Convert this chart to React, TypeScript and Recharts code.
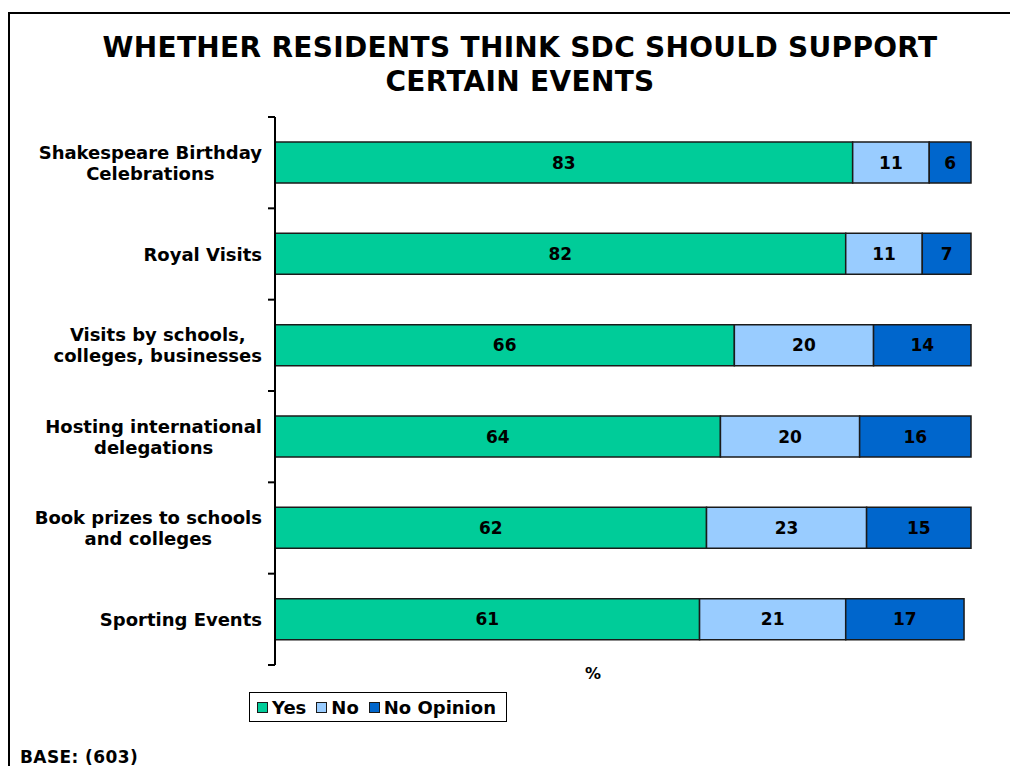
import React from "react";
import { BarChart, Bar, XAxis, YAxis, LabelList, Label } from "recharts";

// category labels, already split into the lines shown on the axis
const CATEGORY_LINES = [
  ["Shakespeare Birthday", "Celebrations"],
  ["Royal Visits"],
  ["Visits by schools,", "colleges, businesses"],
  ["Hosting international", "delegations"],
  ["Book prizes to schools", "and colleges"],
  ["Sporting Events"],
];
const CATEGORIES = CATEGORY_LINES.map((l) => l.join(" "));

const YES = [83, 82, 66, 64, 62, 61];
const NO = [11, 11, 20, 20, 23, 21];
const NO_OPINION = [6, 7, 14, 16, 15, 17];

const SERIES = [
  { key: "yes", name: "Yes", color: "#00CC99" },
  { key: "no", name: "No", color: "#99CCFF" },
  { key: "noOpinion", name: "No Opinion", color: "#0066CC" },
];

const data = CATEGORIES.map((c, i) => ({
  name: c,
  yes: YES[i],
  no: NO[i],
  noOpinion: NO_OPINION[i],
}));

const FONT = 'Verdana, "DejaVu Sans", sans-serif';
const W = 1010;
const H = 766;
const MARGIN = { top: 117, right: 39, bottom: 71, left: 15 };
const Y_AXIS_W = 260;
const X_AXIS_H = 30;
const PLOT_LEFT = MARGIN.left + Y_AXIS_W;
const PLOT_H = H - MARGIN.top - MARGIN.bottom - X_AXIS_H;
const BAND = PLOT_H / CATEGORIES.length;
const LABEL_SIZE = 18;

let ctx: CanvasRenderingContext2D | null = null;
function textWidth(s: string) {
  if (!ctx) ctx = document.createElement("canvas").getContext("2d");
  if (!ctx) return s.length * LABEL_SIZE * 0.6;
  ctx.font = `bold ${LABEL_SIZE}px ${FONT}`;
  return ctx.measureText(s).width;
}

function CategoryTick(props: any) {
  const { y, payload, index } = props;
  const lines: string[] = CATEGORY_LINES[index] || [payload.value];
  const right = PLOT_LEFT - 13;
  const blockW = Math.max(...lines.map(textWidth));
  const cx = right - blockW / 2;
  const lh = 21;
  const y0 = y - ((lines.length - 1) * lh) / 2;
  const isLast = index === CATEGORIES.length - 1;
  return (
    <g>
      <line x1={PLOT_LEFT - 7} x2={PLOT_LEFT} y1={y - BAND / 2} y2={y - BAND / 2} stroke="#000" strokeWidth={2} />
      {isLast && (
        <line x1={PLOT_LEFT - 7} x2={PLOT_LEFT} y1={y + BAND / 2} y2={y + BAND / 2} stroke="#000" strokeWidth={2} />
      )}
      {lines.map((l, i) => (
        <text
          key={i}
          x={cx}
          y={y0 + i * lh}
          textAnchor="middle"
          dominantBaseline="central"
          fontFamily={FONT}
          fontWeight="bold"
          fontSize={LABEL_SIZE}
          fill="#000"
        >
          {l}
        </text>
      ))}
    </g>
  );
}

export default function App() {
  return (
    <div
      style={{
        position: "absolute",
        left: 0,
        top: 0,
        width: W,
        height: H,
        overflow: "hidden",
        background: "#fff",
        fontFamily: FONT,
      }}
    >
      {/* outer frame, runs off the right and bottom edges */}
      <div
        style={{
          position: "absolute",
          left: 8,
          top: 12,
          width: 1100,
          height: 900,
          border: "2px solid #000",
        }}
      />
      <div
        style={{
          position: "absolute",
          left: 0,
          top: 31,
          width: 1040,
          textAlign: "center",
          fontSize: 28,
          fontWeight: "bold",
          lineHeight: "34px",
          letterSpacing: 0.3,
        }}
      >
        WHETHER RESIDENTS THINK SDC SHOULD SUPPORT
        <br />
        CERTAIN EVENTS
      </div>

      <div style={{ position: "absolute", left: 0, top: 0 }}>
        <BarChart width={W} height={H} data={data} layout="vertical" margin={MARGIN} barSize={41}>
          <XAxis
            type="number"
            domain={[0, 100]}
            axisLine={false}
            tickLine={false}
            tick={false}
            height={X_AXIS_H}
          >
            <Label
              value="%"
              position="insideTop"
              offset={3}
              dx={-30}
              fontFamily={FONT}
              fontWeight="bold"
              fontSize={16}
              fill="#000"
            />
          </XAxis>
          <YAxis
            type="category"
            dataKey="name"
            width={Y_AXIS_W}
            axisLine={{ stroke: "#000", strokeWidth: 2 }}
            tickLine={false}
            tick={<CategoryTick />}
            interval={0}
          />
          {SERIES.map((s) => (
            <Bar
              key={s.key}
              dataKey={s.key}
              name={s.name}
              stackId="a"
              fill={s.color}
              stroke="#1a1a1a"
              strokeWidth={1.5}
              isAnimationActive={false}
            >
              <LabelList
                dataKey={s.key}
                position="center"
                fill="#000"
                fontFamily={FONT}
                fontWeight="bold"
                fontSize={17}
              />
            </Bar>
          ))}
        </BarChart>
      </div>

      {/* legend */}
      <div
        style={{
          position: "absolute",
          left: 249,
          top: 692,
          width: 258,
          height: 30,
          boxSizing: "border-box",
          border: "1.5px solid #000",
          display: "flex",
          alignItems: "center",
          padding: "0 0 0 7px",
          fontSize: 18,
          fontWeight: "bold",
          background: "#fff",
        }}
      >
        {SERIES.map((s) => (
          <span key={s.key} style={{ display: "flex", alignItems: "center", marginRight: 10 }}>
            <span
              style={{
                display: "inline-block",
                width: 9,
                height: 9,
                background: s.color,
                border: "1px solid #1a1a1a",
                marginRight: 4,
              }}
            />
            {s.name}
          </span>
        ))}
      </div>

      <div
        style={{
          position: "absolute",
          left: 20,
          top: 747,
          fontSize: 17,
          fontWeight: "bold",
          letterSpacing: 0.4,
        }}
      >
        BASE: (603)
      </div>
    </div>
  );
}
